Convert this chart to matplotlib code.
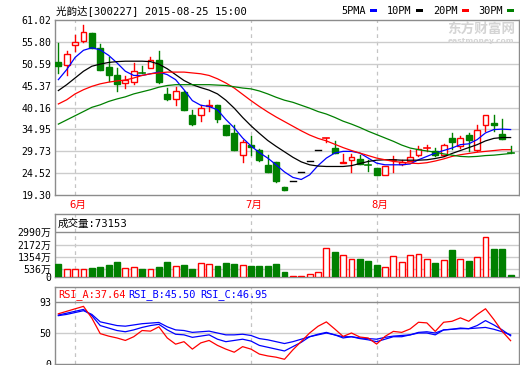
import matplotlib
matplotlib.use("Agg")
import matplotlib.pyplot as plt
from matplotlib.patches import Rectangle

plt.rcParams['font.family'] = ['DejaVu Sans Mono', 'Noto Sans CJK SC']

# daily candles
opens  = [51.0, 50.2, 55.0, 56.1, 57.9, 54.3, 49.7, 47.8, 46.0, 46.2,
          48.6, 49.5, 51.5, 43.4, 42.3, 43.9, 38.4, 38.3, 40.5, 40.7,
          35.9, 34.1, 28.8, 31.3, 30.0, 26.5, 27.2, 21.1, 22.6, 24.86,
          27.35, 30.08, 32.85, 30.4, 26.9, 27.7, 28.0, 26.55, 25.7, 24.0,
          27.5, 26.7, 27.5, 28.9, 30.2, 29.9, 28.8, 32.9, 31.1, 33.7,
          30.1, 36.1, 36.5, 33.8, 29.5]
closes = [50.1, 52.8, 55.8, 58.1, 54.3, 49.0, 47.8, 45.8, 46.8, 48.9,
          48.5, 51.6, 46.2, 42.2, 44.2, 39.6, 36.2, 40.0, 40.7, 37.3,
          33.5, 30.1, 31.9, 30.7, 27.7, 24.8, 22.6, 20.56, 22.6, 24.86,
          27.35, 30.08, 33.0, 29.2, 27.1, 28.3, 26.7, 26.5, 24.0, 26.1,
          27.7, 27.2, 28.3, 30.3, 30.4, 28.8, 31.3, 31.9, 32.9, 32.5,
          34.7, 38.3, 36.0, 32.6, 29.3]
highs  = [55.5, 53.7, 57.4, 59.9, 58.0, 55.3, 52.1, 49.6, 47.6, 50.8,
          50.1, 52.1, 53.6, 44.8, 45.0, 44.0, 39.6, 40.7, 42.0, 40.7,
          36.0, 35.9, 32.5, 33.3, 30.3, 28.8, 27.2, 21.3, 22.6, 24.86,
          27.35, 30.08, 33.0, 32.2, 29.1, 29.1, 28.9, 27.7, 25.8, 26.2,
          28.6, 27.6, 30.1, 30.9, 31.2, 30.5, 31.4, 34.1, 33.3, 34.1,
          35.9, 38.3, 38.4, 37.3, 31.1]
lows   = [48.4, 48.0, 53.7, 55.8, 54.3, 49.0, 46.4, 44.0, 44.8, 45.8,
          48.4, 49.5, 46.1, 42.0, 40.7, 39.5, 36.1, 37.0, 39.4, 36.7,
          33.5, 30.0, 27.2, 28.8, 27.5, 24.7, 22.4, 20.4, 22.6, 24.86,
          27.35, 30.08, 32.0, 29.2, 26.9, 24.8, 26.6, 25.0, 24.0, 24.0,
          24.9, 26.5, 27.4, 28.5, 29.7, 28.7, 28.6, 30.3, 30.5, 29.7,
          29.9, 34.6, 34.5, 32.6, 29.3]

ma5  = [46.8, 49.2, 52.1, 53.8, 54.4, 53.9, 52.6, 50.8, 48.8, 47.8,
        47.8, 48.2, 48.6, 48.0, 46.8, 44.4, 41.8, 40.7, 40.4, 39.6,
        37.3, 35.3, 32.9, 31.0, 29.4, 28.1, 26.5, 24.8, 23.5, 23.0,
        24.1, 26.3, 28.1, 29.3, 29.7, 29.7, 29.3, 28.1, 26.9, 26.5,
        26.5, 26.5, 26.7, 27.7, 28.5, 29.3, 29.9, 30.5, 31.3, 31.5,
        32.5, 34.1, 34.9, 35.0, 34.9]
ma10 = [44.2, 45.6, 47.2, 48.8, 50.0, 50.5, 50.9, 51.1, 51.2, 51.2,
        51.2, 51.1, 50.5, 49.4, 48.0, 46.6, 45.6, 44.9, 44.3, 43.4,
        41.9, 40.0, 37.8, 35.8, 34.0, 32.3, 30.9, 29.6, 28.3, 27.2,
        26.5, 26.2, 26.1, 26.1, 26.1, 26.3, 26.8, 27.3, 27.6, 27.7,
        27.7, 27.6, 27.6, 27.6, 27.7, 28.0, 28.4, 29.2, 29.9, 30.6,
        31.3, 32.2, 32.8, 33.0, 33.0]
ma20 = [41.0, 42.0, 43.4, 44.4, 45.2, 45.8, 46.2, 46.5, 46.7, 47.2,
        47.8, 48.2, 48.4, 48.6, 48.6, 48.6, 48.4, 48.2, 47.8, 47.0,
        46.0, 44.8, 43.3, 41.8, 40.4, 39.1, 37.9, 36.8, 35.7, 34.6,
        33.6, 32.8, 32.2, 31.4, 30.6, 29.9, 29.3, 28.7, 28.1, 27.7,
        27.3, 27.1, 26.9, 26.8, 27.0, 27.4, 27.9, 28.5, 28.9, 29.2,
        29.5, 29.7, 29.9, 30.1, 30.1]
ma30 = [36.2, 37.2, 38.2, 39.2, 40.2, 40.8, 41.6, 42.2, 42.7, 43.4,
        43.9, 44.4, 45.0, 45.4, 45.6, 45.6, 45.6, 45.6, 45.6, 45.5,
        45.4, 45.1, 44.8, 44.6, 44.1, 43.4, 42.6, 41.9, 41.4, 40.7,
        40.0, 39.2, 38.6, 37.8, 36.9, 36.2, 35.4, 34.5, 33.7, 32.9,
        32.1, 31.2, 30.5, 30.1, 29.8, 29.5, 29.1, 28.8, 28.5, 28.4,
        28.5, 28.7, 28.8, 29.0, 29.2]

# volume in 万
volume = [887, 545, 545, 545, 614, 682, 818, 1023, 591, 659,
          545, 545, 682, 1023, 727, 818, 545, 954, 864, 750,
          954, 886, 795, 750, 750, 750, 886, 341, 114, 114,
          250, 341, 1955, 1659, 1477, 1204, 1227, 1091, 818, 659,
          1409, 1023, 1477, 1568, 1204, 954, 1136, 1841, 1204, 1091,
          1364, 2705, 1909, 1909, 150]

rsi_a = [81, 85, 89, 93, 74, 49, 45, 42, 38, 44,
         54, 53, 60, 42, 32, 36, 24, 34, 38, 30,
         24, 19, 28, 24, 16, 13, 11, 7.6, 22.8, 36.3,
         50, 60.8, 67.9, 56.5, 44.5, 50, 43.5, 41.9, 32.1, 44.5,
         52.6, 51, 56.5, 67.3, 66.3, 52.6, 67.3, 68.9, 74.4, 68.9,
         79.8, 89.1, 71.7, 52.6, 37.6]
rsi_b = [79, 82, 85, 88, 78, 62, 58, 54, 52, 55,
         59, 62, 64, 55, 48, 47, 43, 45, 47, 40,
         36, 38, 40, 37, 30, 27, 24, 21, 28, 35,
         44, 48, 51, 47, 42, 44, 41, 39, 36, 40,
         44, 44, 47, 50, 50, 47, 55, 56, 58, 57,
         62, 70, 63, 55, 45.5]
rsi_c = [78, 80, 83, 86, 80, 68, 65, 62, 61, 63,
         65, 66, 67, 60, 55, 54, 51, 52, 53, 50,
         47, 47, 48, 46, 41, 39, 36, 33, 36, 40,
         44, 47, 50, 47, 44, 44, 42, 41, 40, 43,
         45, 46, 47, 51, 52, 50, 55, 56, 57, 57,
         58, 59, 56, 52, 47]

price_ticks = [19.30, 24.52, 29.73, 34.95, 40.16, 45.37, 50.59, 55.80, 61.02]
vol_ticks = [0, 536, 1354, 2172, 2990]
vol_labels = ['0', '536万', '1354万', '2172万', '2990万']
month_idx = [2, 23, 38]
month_names = ['6月', '7月', '8月']

RED = '#ff0000'
GREEN = '#008000'
BLUE = '#0000ff'
BORDER = '#8c8c8c'
GRID = '#cccccc'
W, H = 520, 365


def rect(l, t, r, b):
    return [l / W, 1 - b / H, (r - l) / W, (b - t) / H]


def style(ax):
    for s in ax.spines.values():
        s.set_color(BORDER)
        s.set_linewidth(1)
    ax.tick_params(length=0, labelsize=7.1, pad=2.5)
    ax.set_xticks([])
    ax.set_xlim(-0.4, 55.0)
    for m in month_idx:
        ax.axvline(m, color='#c4c4c4', lw=0.9, ls=(0, (3, 3)), zorder=0)


fig = plt.figure(figsize=(5.2, 3.65), dpi=100)
n = len(closes)
xs = list(range(n))
bw = 0.7

# ---- price panel
ax = fig.add_axes(rect(55, 20, 519, 195))
style(ax)
ax.set_ylim(price_ticks[0], price_ticks[-1])
ax.set_yticks(price_ticks)
ax.set_yticklabels(['%.2f' % t for t in price_ticks])
for t in price_ticks[1:-1]:
    ax.axhline(t, color=GRID, lw=1, zorder=0)

for i in xs:
    o, c, h, l = opens[i], closes[i], highs[i], lows[i]
    if h == l:
        ax.plot([i - bw / 2, i + bw / 2], [c, c], color='black', lw=1, zorder=3)
        continue
    up = c >= o
    col = RED if up else GREEN
    top, bot = max(o, c), min(o, c)
    if top - bot < 0.2:
        ax.plot([i, i], [l, h], color=col, lw=1, zorder=3)
        ax.plot([i - bw / 2, i + bw / 2], [c, c], color=col, lw=1.2, zorder=3)
        continue
    if up:
        ax.plot([i, i], [top, h], color=col, lw=1, zorder=3)
        ax.plot([i, i], [l, bot], color=col, lw=1, zorder=3)
        ax.add_patch(Rectangle((i - bw / 2, bot), bw, top - bot, facecolor='white',
                               edgecolor=col, lw=1, zorder=4))
    else:
        ax.plot([i, i], [l, h], color=col, lw=1, zorder=3)
        ax.add_patch(Rectangle((i - bw / 2, bot), bw, top - bot, facecolor=col,
                               edgecolor=col, lw=1, zorder=4))

ax.plot(xs, ma5, color=BLUE, lw=0.9, zorder=5)
ax.plot(xs, ma10, color='black', lw=0.9, zorder=5)
ax.plot(xs, ma20, color=RED, lw=0.9, zorder=5)
ax.plot(xs, ma30, color=GREEN, lw=0.9, zorder=5)

# watermark
fig.text(447 / W, 1 - 29 / H, '东方财富网', fontsize=9.8, color='#d4d4d4',
         fontweight='bold', va='center', ha='left', family=['Noto Sans CJK SC'])
fig.text(448 / W, 1 - 40.5 / H, 'eastmoney.com', fontsize=5.4, color='#d4d4d4',
         fontweight='bold', va='center', ha='left', family=['DejaVu Sans'])

# title and legend
fig.text(56 / W, 1 - 10.5 / H, '光韵达[300227] 2015-08-25 15:00', fontsize=7.6,
         va='center', ha='left')
legend = [('5PMA', BLUE, 341), ('10PM', 'black', 387), ('20PM', RED, 433), ('30PM', GREEN, 478)]
for name, col, x0 in legend:
    fig.text(x0 / W, 1 - 10.5 / H, name, fontsize=7.4, va='center', ha='left')
    fig.patches.append(Rectangle(((x0 + 29) / W, 1 - 12 / H), 7 / W, 2.5 / H,
                                 transform=fig.transFigure, facecolor=col,
                                 edgecolor='none'))

for m, name in zip(month_idx, month_names):
    x_pix = 55 + (m + 0.4) * 464 / 55.4 + 3
    fig.text(x_pix / W, 1 - 205 / H, name, fontsize=7.6, color=RED,
             va='center', ha='center')

# ---- volume panel
av = fig.add_axes(rect(55, 214, 519, 277.3))
style(av)
vtop = 2990 * (277.3 - 214) / (277.3 - 232.3)
av.set_ylim(0, vtop)
av.set_yticks(vol_ticks)
av.set_yticklabels(vol_labels)
for t in vol_ticks[1:-1]:
    av.axhline(t, color=GRID, lw=1, zorder=0)
av.axhline(2990, color=BORDER, lw=1, zorder=1)
for i in xs:
    up = closes[i] >= opens[i]
    if up:
        av.add_patch(Rectangle((i - bw / 2, 0), bw, volume[i], facecolor='white',
                               edgecolor=RED, lw=1, zorder=3))
    else:
        av.add_patch(Rectangle((i - bw / 2, 0), bw, volume[i], facecolor=GREEN,
                               edgecolor=GREEN, lw=1, zorder=3))
av.text(0.006, (2990 + vtop) / 2 / vtop, '成交量:73153', transform=av.transAxes,
        fontsize=7.6, va='center', ha='left')

# ---- RSI panel
ar = fig.add_axes(rect(55, 287, 519, 364))
style(ar)
rtop = 100 * (364 - 287) / (364 - 302)
ar.set_ylim(0, rtop)
ar.set_yticks([0, 50, 100])
ar.set_yticklabels(['0', '50', '93'])
ar.axhline(50, color=GRID, lw=1, zorder=0)
ar.axhline(100, color=BORDER, lw=1, zorder=1)
ar.plot(xs, rsi_c, color=BLUE, lw=0.9, zorder=3)
ar.plot(xs, rsi_b, color=BLUE, lw=0.9, zorder=3)
ar.plot(xs, rsi_a, color=RED, lw=0.9, zorder=4)
yh = (100 + rtop) / 2 / rtop
ar.text(0.006, yh, 'RSI_A:37.64', transform=ar.transAxes, fontsize=7.4,
        color=RED, va='center', ha='left')
ar.text(73 / 464, yh, 'RSI_B:45.50', transform=ar.transAxes, fontsize=7.4,
        color=BLUE, va='center', ha='left')
ar.text(145 / 464, yh, 'RSI_C:46.95', transform=ar.transAxes, fontsize=7.4,
        color=BLUE, va='center', ha='left')

fig.savefig('out.png', dpi=100)
